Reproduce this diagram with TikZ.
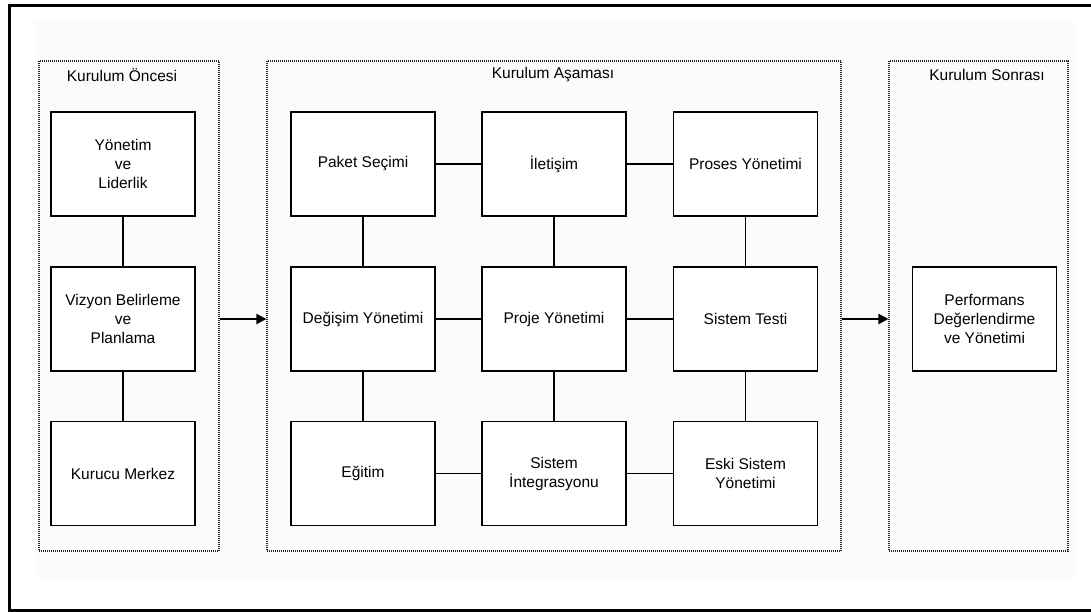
\documentclass[tikz,border=0pt]{standalone}
\usepackage{fontspec}
\setmainfont{Liberation Sans}
\usetikzlibrary{arrows.meta}
\begin{document}
\begin{tikzpicture}[x=1pt,y=-1pt,
  font=\fontsize{15.5}{19}\selectfont,
  box/.style={draw=black,line width=1.8pt,minimum width=144pt,minimum height=104pt,
    align=center,inner sep=2pt,fill=white},
  phase/.style={draw=black!85,line width=1.1pt,dash pattern=on 1pt off 1pt,
    minimum height=490pt,inner sep=0pt},
  phaselabel/.style={inner sep=1pt},
  link/.style={line width=1.8pt},
  flow/.style={line width=1.8pt,-{Triangle[length=10pt,width=10pt]}}]
\useasboundingbox (0,0) rectangle (1091,611);
\begin{scope}
\clip (0,0) rectangle (1091,611);
% faint canvas and outer frame
\fill[black!1.5] (35,20) rectangle (1075,578);
\draw[line width=3pt] (9.5,5.5) rectangle (1095,610.5);
\end{scope}

% phase containers
\node[phase,minimum width=180pt] (pre)  at (129,306) {};
\node[phase,minimum width=574pt] (inst) at (554,306) {};
\node[phase,minimum width=179pt] (post) at (978.5,306) {};
\node[phaselabel] (preL)  at (122,75) {Kurulum Öncesi};
\node[phaselabel] (instL) at (553,75) {Kurulum Aşaması};
\node[phaselabel] (postL) at (987,75) {Kurulum Sonrası};

% before installation
\node[box] (yon) at (123,164)   {Yönetim\\ve\\Liderlik};
\node[box] (viz) at (123,319)   {Vizyon Belirleme\\ve\\Planlama};
\node[box] (kur) at (123,473.5) {Kurucu Merkez};

% installation grid
\node[box] (pak) at (363,164)   {Paket Seçimi};
\node[box] (ile) at (554,164)   {İletişim};
\node[box] (pro) at (745.5,164) {Proses Yönetimi};
\node[box] (deg) at (363,319)   {Değişim Yönetimi};
\node[box] (prj) at (554,319)   {Proje Yönetimi};
\node[box] (tes) at (745.5,319) {Sistem Testi};
\node[box] (egi) at (363,473.5) {Eğitim};
\node[box] (ent) at (554,473.5) {Sistem\\İntegrasyonu};
\node[box] (esk) at (745.5,473.5) {Eski Sistem\\Yönetimi};

% after installation
\node[box] (per) at (984.5,319) {Performans\\Değerlendirme\\ve Yönetimi};

% links
\draw[link] (yon) -- (viz);
\draw[link] (viz) -- (kur);
\draw[link] (pak) -- (ile);
\draw[link] (ile) -- (pro);
\draw[link] (deg) -- (prj);
\draw[link] (prj) -- (tes);
\draw[link] (egi) -- (ent);
\draw[link] (ent) -- (esk);
\draw[link] (pak) -- (deg);
\draw[link] (deg) -- (egi);
\draw[link] (ile) -- (prj);
\draw[link] (prj) -- (ent);
\draw[link] (pro) -- (tes);
\draw[link] (tes) -- (esk);

% phase flow
\draw[flow] (pre.east |- viz) -- (inst.west |- viz);
\draw[flow] (inst.east |- viz) -- (post.west |- viz);
\end{tikzpicture}
\end{document}
